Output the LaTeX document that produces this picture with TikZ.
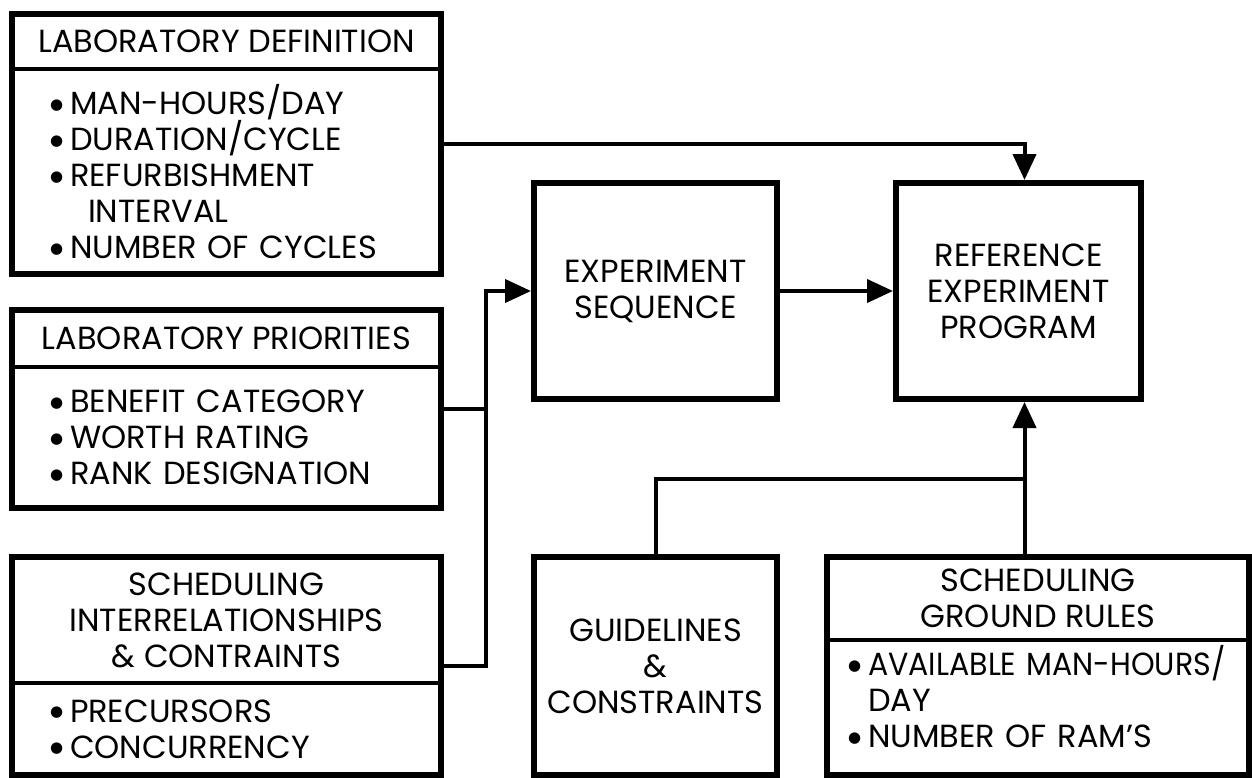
\documentclass[tikz,border=0pt]{standalone}
\usepackage{fontspec}
\setmainfont{Poppins}
\newfontfamily\dotfont{DejaVu Sans}
\usetikzlibrary{arrows.meta,positioning,fit,calc}

\newcommand{\blt}{\makebox[10pt][l]{\raisebox{2.6pt}{\dotfont\fontsize{7.5}{7.5}\selectfont ●}}}

\begin{document}
\begin{tikzpicture}[
  font=\fontsize{16}{18}\selectfont,
  cell/.style={inner sep=0pt,outer sep=0pt,align=center},
  list/.style={inner sep=0pt,outer sep=0pt,align=left},
  frame/.style={draw,line width=3pt,inner sep=0pt},
  blk/.style={draw,line width=3pt,inner sep=0pt,align=center,minimum width=121.5pt},
  rule/.style={line width=2.2pt},
  wire/.style={line width=2pt},
  arr/.style={wire,-{Triangle[length=13pt,width=11.5pt]}}
]
\useasboundingbox (0,0) rectangle (626pt,-388.5pt);

% inputs on the left
\node[cell,minimum width=214.5pt,minimum height=27.5pt,anchor=north west] (labdef) at (6pt,-7pt) {LABORATORY DEFINITION};
\node[list,text width=188pt,minimum height=102.5pt,below right=0pt and 19pt of labdef.south west] (labdefb)
  {\blt MAN-HOURS/DAY\\ \blt DURATION/CYCLE\\ \blt REFURBISHMENT\\ \hspace*{19pt}INTERVAL\\ \blt NUMBER OF CYCLES};
\node[frame,fit=(labdef)(labdefb)] (labdefbox) {};
\draw[rule] (labdef.south west) -- (labdef.south east);

\node[cell,minimum width=214.5pt,minimum height=28.5pt,anchor=north] (prio) at ($(labdef.south)+(0,-120.5pt)$) {LABORATORY PRIORITIES};
\node[list,text width=188pt,minimum height=70.5pt,below right=0pt and 19pt of prio.south west] (priob)
  {\blt BENEFIT CATEGORY\\ \blt WORTH RATING\\ \blt RANK DESIGNATION};
\node[frame,fit=(prio)(priob)] (priobox) {};
\draw[rule] (prio.south west) -- (prio.south east);

\node[cell,minimum width=214.5pt,minimum height=63pt,anchor=north] (sched) at ($(prio.south)+(0,-95pt)$) {SCHEDULING\\INTERRELATIONSHIPS\\\& CONTRAINTS};
\node[list,text width=188pt,minimum height=46pt,below right=0pt and 19pt of sched.south west] (schedb)
  {\blt PRECURSORS\\ \blt CONCURRENCY};
\node[frame,fit=(sched)(schedb)] (schedbox) {};
\draw[rule] (sched.south west) -- (sched.south east);

% middle and right blocks
\node[blk,minimum height=108pt,anchor=north west] (seq) at (265.5pt,-90pt) {EXPERIMENT\\SEQUENCE};
\node[blk,minimum width=122.5pt,minimum height=108pt,right=56.5pt of seq] (rep) {REFERENCE\\EXPERIMENT\\PROGRAM};
\node[blk,minimum height=109pt,below=76pt of seq] (guide) {GUIDELINES\\\&\\CONSTRAINTS};

\node[cell,minimum width=211pt,minimum height=41.5pt,anchor=north west] (rules) at (413.5pt,-278.5pt) {SCHEDULING\\GROUND RULES};
\coordinate (rulesend) at ($(rules.south)+(0,-67.5pt)$);
\node[list,text width=199pt,minimum height=57pt,below right=0pt and 10.5pt of rules.south west] (rulesb)
  {\blt\scalebox{0.94}[1]{AVAILABLE MAN-HOURS/}\\ \hspace*{10pt}DAY\\ \blt NUMBER OF RAM'S};
\node[frame,fit=(rules)(rulesb)(rulesend)] (rulesbox) {};
\draw[rule] (rules.south west) -- (rules.south east);

% connectors
\coordinate (bus) at (243pt,0);
\coordinate (trunk) at (512.25pt,0);
\coordinate (join) at (trunk |- 0,-239.5pt);

\draw[arr] (labdefbox.east) -| (trunk |- rep.north);
\draw[arr] (seq) -- (rep);
\draw[wire] (priobox.east) -- (priobox.east -| bus);
\draw[arr] (schedbox.east) -| (bus |- seq.west) -- (seq.west);
\draw[wire] (guide.north) |- (join);
\draw[arr] (trunk |- rulesbox.north) -- (trunk |- rep.south);
\end{tikzpicture}
\end{document}
